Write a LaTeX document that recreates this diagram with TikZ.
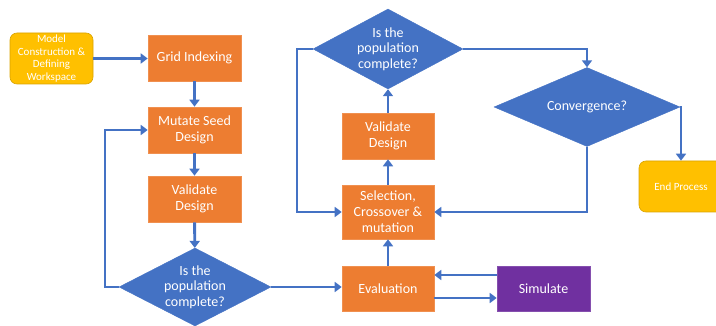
\documentclass[tikz,border=0pt]{standalone}
\usepackage{fontspec}
\setmainfont{Carlito}
\usetikzlibrary{shapes.geometric,arrows.meta}
\definecolor{orng}{HTML}{ED7D31}
\definecolor{blu}{HTML}{4472C4}
\definecolor{gold}{HTML}{FFC000}
\definecolor{purp}{HTML}{7030A0}
\tikzset{
  box/.style={rectangle, fill=orng, draw=orng!85!white, line width=0.6pt, text=white, align=center, inner sep=1pt, font=\fontsize{14}{16}\selectfont},
  rbox/.style={rectangle, rounded corners=7pt, fill=gold, draw=gold!85!black, line width=0.6pt, text=white, align=center, inner sep=1pt, font=\fontsize{11}{12.8}\selectfont},
  dia/.style={diamond, fill=blu, draw=blu, inner sep=0pt},
  dtext/.style={text=white, align=center, inner sep=0pt, font=\fontsize{14}{15.5}\selectfont},
  conn/.style={draw=blu, line width=2.9pt, -{Triangle[length=7pt,width=10pt]}},
}
\begin{document}
\begin{tikzpicture}[x=1pt,y=-1pt]
\useasboundingbox (0,0) rectangle (716,326);
\clip (0,0) rectangle (716,326);
\node[rbox, minimum width=83pt, minimum height=51pt] (model) at (51.5,58.5) {Model\\Construction \&\\Defining\\Workspace};
\node[box, minimum width=93pt, minimum height=46pt] (grid) at (194.5,58) {Grid Indexing};
\node[box, minimum width=93pt, minimum height=46pt] (mutate) at (194.5,130) {Mutate Seed\\Design};
\node[box, minimum width=93pt, minimum height=46pt] (valL) at (194.5,199) {Validate\\Design};
\node[dia, minimum width=152pt, minimum height=78pt, label={[dtext]center:{Is the\\population\\complete?}}] (diaL) at (195,287) {};
\node[box, minimum width=92pt, minimum height=45pt] (eval) at (388,288.5) {Evaluation};
\node[box, fill=purp, draw=purp!85!white, minimum width=93pt, minimum height=45pt] (sim) at (543.5,288.5) {Simulate};
\node[box, minimum width=92pt, minimum height=54pt] (sel) at (388,212) {Selection,\\Crossover \&\\mutation};
\node[box, minimum width=92pt, minimum height=46pt] (valR) at (388,136) {Validate\\Design};
\node[dia, minimum width=150pt, minimum height=80pt, label={[dtext]center:{Is the\\population\\complete?}}] (diaT) at (388,49) {};
\node[dia, minimum width=186pt, minimum height=79pt, label={[dtext]center:{Convergence?}}] (conv) at (587,107) {};
\node[rbox, minimum width=84pt, minimum height=51pt] (endp) at (681,186.5) {End Process};
\coordinate (lL) at (105,287);
\coordinate (lT) at (297,49);
\coordinate (rT) at (587,49);
\coordinate (rC) at (681,107);
\coordinate (bC) at (587,212);
\path[conn] (model.east) -- (model.east -| grid.west);
\path[conn] (grid) -- (mutate);
\path[conn] (mutate) -- (valL);
\path[conn] (valL) -- (diaL);
\path[conn] (diaL.west) -- (lL) |- (mutate.west);
\path[conn] (diaL.east) -- (diaL.east -| eval.west);
\path[conn] ([yshift=-9.5pt]eval.east) -- ([yshift=-9.5pt]eval.east -| sim.west);
\path[conn] ([yshift=13.5pt]sim.west) -- ([yshift=13.5pt]sim.west -| eval.east);
\path[conn] (eval) -- (sel);
\path[conn] (sel) -- (valR);
\path[conn] (valR) -- (diaT);
\path[conn] (diaT.west) -- (lT) |- (sel.west);
\path[conn] (diaT.east) -- (rT) -- (conv.north);
\path[conn] (conv.east) -- (rC) -- (endp.north);
\path[conn] (conv.south) -- (bC) -- (sel.east);
\end{tikzpicture}
\end{document}
